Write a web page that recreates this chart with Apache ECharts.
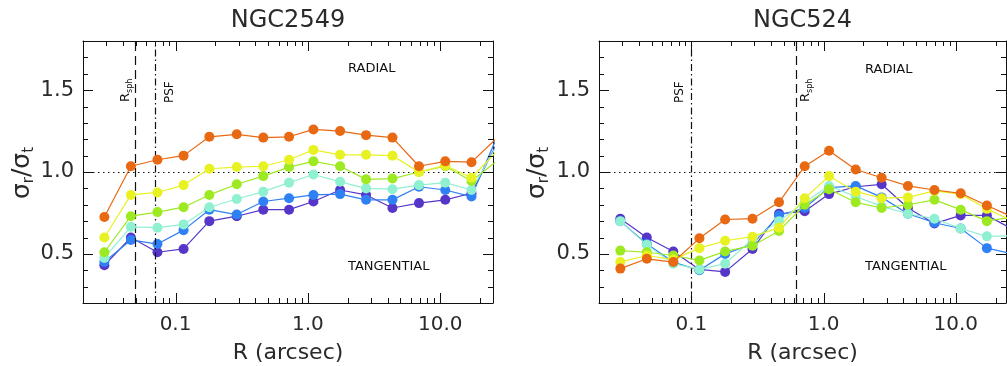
<!DOCTYPE html>
<html>
<head>
<meta charset="utf-8">
<script src="https://cdn.jsdelivr.net/npm/echarts@6/dist/echarts.min.js"></script>
<style>
  html, body { margin: 0; padding: 0; background: #fff; }
  #chart { width: 1007px; height: 366px; }
</style>
</head>
<body>
<div id="chart"></div>
<script>
// Radial bins (arcsec), shared by both galaxies
const R = [0.029, 0.046, 0.073, 0.115, 0.18, 0.29, 0.46, 0.72, 1.1, 1.75, 2.75, 4.35, 6.9, 10.9, 17.2, 27];

// sigma_r / sigma_t profiles for NGC2549
const n2549Violet = [0.43, 0.60, 0.51, 0.53, 0.70, 0.73, 0.77, 0.77, 0.82, 0.89, 0.86, 0.78, 0.81, 0.83, 0.87, 1.18];
const n2549Blue   = [0.45, 0.585, 0.56, 0.645, 0.77, 0.74, 0.82, 0.84, 0.86, 0.865, 0.83, 0.83, 0.91, 0.89, 0.85, 1.22];
const n2549Aqua   = [0.475, 0.665, 0.66, 0.68, 0.785, 0.835, 0.88, 0.935, 0.985, 0.94, 0.90, 0.895, 0.92, 0.935, 0.89, 1.17];
const n2549Lime   = [0.51, 0.73, 0.755, 0.785, 0.86, 0.925, 0.975, 1.03, 1.065, 1.035, 0.955, 0.96, 1.0, 1.035, 0.945, 1.07];
const n2549Yellow = [0.60, 0.86, 0.875, 0.92, 1.02, 1.03, 1.035, 1.075, 1.135, 1.105, 1.105, 1.10, 1.0, 1.04, 0.965, 1.13];
const n2549Orange = [0.725, 1.035, 1.075, 1.10, 1.215, 1.23, 1.21, 1.215, 1.26, 1.25, 1.225, 1.21, 1.035, 1.065, 1.06, 1.21];

// sigma_r / sigma_t profiles for NGC524
const n524Violet = [0.715, 0.60, 0.515, 0.405, 0.39, 0.53, 0.745, 0.76, 0.865, 0.91, 0.925, 0.78, 0.685, 0.735, 0.735, 0.65];
const n524Blue   = [0.70, 0.56, 0.45, 0.40, 0.50, 0.56, 0.735, 0.78, 0.905, 0.915, 0.845, 0.745, 0.69, 0.655, 0.535, 0.50];
const n524Aqua   = [0.70, 0.555, 0.44, 0.405, 0.44, 0.59, 0.70, 0.815, 0.915, 0.85, 0.79, 0.745, 0.715, 0.655, 0.607, 0.61];
const n524Lime   = [0.52, 0.51, 0.49, 0.46, 0.515, 0.55, 0.64, 0.80, 0.895, 0.815, 0.78, 0.80, 0.83, 0.77, 0.70, 0.725];
const n524Yellow = [0.45, 0.49, 0.465, 0.535, 0.58, 0.605, 0.66, 0.84, 0.975, 0.88, 0.84, 0.845, 0.885, 0.865, 0.775, 0.70];
const n524Orange = [0.41, 0.47, 0.45, 0.595, 0.71, 0.715, 0.815, 1.035, 1.13, 1.015, 0.965, 0.915, 0.89, 0.87, 0.795, 0.725];

// Tick positions and labels
const xMajorTicks = [0.1, 1, 10];
const xTickLabels = { 0.1: '0.1', 1: '1.0', 10: '10.0' };
const yMajorTicks = [0.5, 1.0, 1.5];
const yMinorTicks = [0.3, 0.4, 0.6, 0.7, 0.8, 0.9, 1.1, 1.2, 1.3, 1.4, 1.6, 1.7];
const yTickLabels = ['0.5', '1.0', '1.5'];

const colors = {
  violet: '#5636c8',
  blue: '#2f80f4',
  aqua: '#90f0d2',
  lime: '#9eea22',
  yellow: '#e8f222',
  orange: '#e96812'
};

const FONT = '"DejaVu Sans", sans-serif';
const INK = '#111';
const TEXT = '#2a2a2a';
const Y_MIN = 0.2, Y_MAX = 1.8;

const panels = [
  {
    title: 'NGC2549',
    grid: { left: 83, top: 41, width: 410, height: 262 },
    xRange: [0.02, 25],
    curves: [
      ['violet', n2549Violet], ['blue', n2549Blue], ['aqua', n2549Aqua],
      ['lime', n2549Lime], ['yellow', n2549Yellow], ['orange', n2549Orange]
    ],
    rsph: 0.05,
    psf: 0.072
  },
  {
    title: 'NGC524',
    grid: { left: 599, top: 41, width: 407, height: 262 },
    xRange: [0.02, 24],
    curves: [
      ['violet', n524Violet], ['blue', n524Blue], ['aqua', n524Aqua],
      ['lime', n524Lime], ['yellow', n524Yellow], ['orange', n524Orange]
    ],
    rsph: 0.62,
    psf: 0.1
  }
];

// Minor log ticks at 2..9 x 10^n inside (lo, hi)
function minorLogTicks(lo, hi) {
  const out = [];
  for (let n = -3; n <= 2; n++) {
    for (let k = 2; k <= 9; k++) {
      const v = +(k * Math.pow(10, n)).toPrecision(3);
      if (v > lo * 1.0001 && v < hi * 0.9999) out.push(v);
    }
  }
  return out;
}

// Inward tick marks on all four sides of a panel: [x, y, length, side]
// side: 0 left, 1 right, 2 bottom, 3 top
function tickRows(lo, hi) {
  const rows = [];
  yMajorTicks.forEach(v => { rows.push([lo, v, 10, 0], [hi, v, 10, 1]); });
  yMinorTicks.forEach(v => { rows.push([lo, v, 5, 0], [hi, v, 5, 1]); });
  xMajorTicks.forEach(v => { rows.push([v, Y_MIN, 10, 2], [v, Y_MAX, 10, 3]); });
  minorLogTicks(lo, hi).forEach(v => { rows.push([v, Y_MIN, 5, 2], [v, Y_MAX, 5, 3]); });
  return rows;
}

function renderTick(params, api) {
  const p = api.coord([api.value(0), api.value(1)]);
  const len = api.value(2);
  const side = api.value(3);
  let x1, y1, x2, y2;
  if (side === 0 || side === 1) {
    const y = Math.round(p[1]) + 0.5;
    const x = Math.round(p[0]);
    x1 = x; x2 = side === 0 ? x + len : x - len;
    y1 = y2 = y;
  } else {
    const x = Math.round(p[0]) + 0.5;
    const y = Math.round(p[1]);
    y1 = y; y2 = side === 2 ? y - len : y + len;
    x1 = x2 = x;
  }
  return {
    type: 'line',
    shape: { x1, y1, x2, y2 },
    style: { stroke: INK, lineWidth: 1 }
  };
}

const grids = [];
const xAxes = [];
const yAxes = [];
const series = [];
const graphics = [];

panels.forEach((p, g) => {
  // fixed plot frame: no automatic shrinking to fit labels
  grids.push(Object.assign({ containLabel: false, outerBoundsMode: 'none' }, p.grid));
  const [lo, hi] = p.xRange;
  const xBase = xAxes.length;
  const yBase = yAxes.length;

  const xAx = (pos, labels) => ({
    type: 'log', logBase: 10, gridIndex: g, min: lo, max: hi, position: pos,
    axisLine: { show: true, onZero: false, lineStyle: { color: INK, width: 1 } },
    axisTick: { show: false },
    axisLabel: labels ? {
      show: true, margin: 12, fontSize: 20, color: TEXT, fontFamily: FONT,
      showMinLabel: false, showMaxLabel: false,
      formatter: v => xTickLabels[+(+v).toPrecision(3)] || ''
    } : { show: false },
    splitLine: { show: false },
    name: labels ? 'R (arcsec)' : '',
    nameLocation: 'middle', nameGap: 39,
    nameTextStyle: { fontSize: 22, color: TEXT, fontFamily: FONT }
  });
  xAxes.push(xAx('bottom', true), xAx('top', false));

  const yAx = (pos, labels) => ({
    type: 'value', gridIndex: g, min: Y_MIN, max: Y_MAX, splitNumber: 3,
    minInterval: 0.5, maxInterval: 0.5, position: pos,
    axisLine: { show: true, onZero: false, lineStyle: { color: INK, width: 1 } },
    axisTick: { show: false },
    axisLabel: labels ? {
      show: true, margin: 9, fontSize: 21, color: TEXT, fontFamily: FONT,
      showMinLabel: false, showMaxLabel: false,
      formatter: v => { const s = (+v).toFixed(1); return yTickLabels.includes(s) ? s : ''; }
    } : { show: false },
    splitLine: { show: false }
  });
  yAxes.push(yAx('left', true), yAx('right', false));

  p.curves.forEach(([cname, vals], i) => {
    const s = {
      type: 'line', name: p.title + ' ' + cname,
      xAxisIndex: xBase, yAxisIndex: yBase,
      data: R.map((r, j) => [r, vals[j]]),
      symbol: 'circle', symbolSize: 10, showSymbol: true,
      lineStyle: { color: colors[cname], width: 1.2 },
      itemStyle: { color: colors[cname] },
      clip: true, silent: true, z: 3 + i
    };
    if (i === 0) {
      s.markLine = {
        silent: true, symbol: ['none', 'none'], label: { show: false }, animation: false,
        data: [
          { yAxis: 1.0, lineStyle: { color: INK, width: 1.2, type: [1.5, 3.5] } },
          { xAxis: p.rsph, lineStyle: { color: INK, width: 1.2, type: [9, 5] } },
          { xAxis: p.psf, lineStyle: { color: INK, width: 1.2, type: [7, 3, 1.5, 3] } }
        ]
      };
    }
    series.push(s);
  });

  // Frame ticks drawn through the panel's own axes
  series.push({
    type: 'custom', name: p.title + ' ticks',
    xAxisIndex: xBase, yAxisIndex: yBase,
    data: tickRows(lo, hi),
    encode: { x: 0, y: 1 },
    renderItem: renderTick,
    silent: true, clip: false, z: 20
  });

  const cx = p.grid.left + p.grid.width / 2;
  graphics.push({
    type: 'text', x: cx, y: 21,
    style: { text: p.title, fill: TEXT, font: '24px ' + FONT, align: 'center', verticalAlign: 'middle' }
  });
});

// Axis titles σr/σt
[22, 537].forEach(x => {
  graphics.push({
    type: 'text', x: x, y: 173, rotation: Math.PI / 2,
    style: {
      text: '{a|σ}{b|r}{a|/σ}{b|t}', fill: TEXT, align: 'center', verticalAlign: 'middle',
      rich: {
        a: { fontSize: 25, fontFamily: FONT, fill: TEXT, lineHeight: 30 },
        b: { fontSize: 15, fontFamily: FONT, fill: TEXT, lineHeight: 16, verticalAlign: 'bottom' }
      }
    }
  });
});

// Region labels
const note = (x, y, t) => ({
  type: 'text', x: x, y: y,
  style: { text: t, fill: INK, font: '13px ' + FONT, align: 'left', verticalAlign: 'middle' }
});
graphics.push(note(348, 69, 'RADIAL'), note(348, 267, 'TANGENTIAL'),
              note(865, 70, 'RADIAL'), note(865, 267, 'TANGENTIAL'));

// Vertical marker captions, rotated
const rsph = (x) => ({
  type: 'text', x: x, y: 102, rotation: Math.PI / 2,
  style: {
    text: '{r|R}{s|sph}', fill: INK, align: 'left', verticalAlign: 'middle',
    rich: {
      r: { fontSize: 13, fontFamily: FONT, fill: INK, lineHeight: 16 },
      s: { fontSize: 8, fontFamily: FONT, fill: INK, lineHeight: 9, verticalAlign: 'bottom' }
    }
  }
});
const psf = (x) => ({
  type: 'text', x: x, y: 103, rotation: Math.PI / 2,
  style: { text: 'PSF', fill: INK, font: '12px ' + FONT, align: 'left', verticalAlign: 'middle' }
});
graphics.push(rsph(126), psf(170), psf(680), rsph(806));

const chart = echarts.init(document.getElementById('chart'), null, { renderer: 'canvas' });
chart.setOption({
  animation: false,
  backgroundColor: '#fff',
  grid: grids,
  xAxis: xAxes,
  yAxis: yAxes,
  series: series,
  graphic: graphics
});
</script>
</body>
</html>
